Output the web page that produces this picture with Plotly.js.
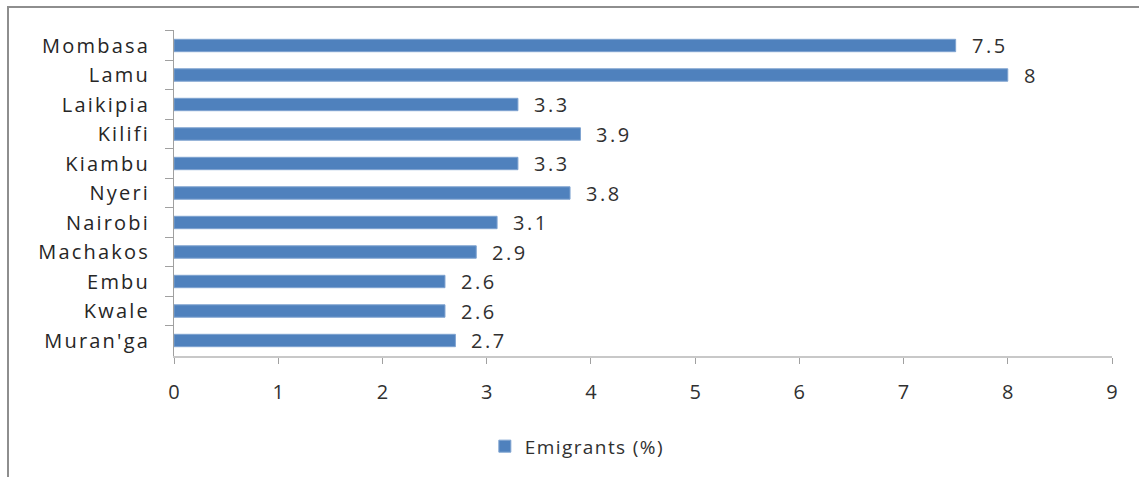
<!DOCTYPE html>
<html>
<head>
<meta charset="utf-8">
<script src="https://cdn.plot.ly/plotly-3.0.1.min.js"></script>
<style>
  html, body { margin: 0; padding: 0; overflow: hidden; background: #fff; }
  #chart { width: 1139px; height: 477px; }
  #frame { position: absolute; left: 7px; top: 6px; width: 1200px; height: 600px;
           border: 2px solid #8e8e8e; pointer-events: none; }
  .ytick text { letter-spacing: 2.2px; }
  .annotation-text { letter-spacing: 2.5px; }
  .legendtext { letter-spacing: 1.4px; }
</style>
</head>
<body>
<div id="chart"></div>
<div id="frame"></div>
<script>
const categories = ["Mombasa", "Lamu", "Laikipia", "Kilifi", "Kiambu", "Nyeri",
                    "Nairobi", "Machakos", "Embu", "Kwale", "Muran'ga"];
const emigrants = [7.5, 8, 3.3, 3.9, 3.3, 3.8, 3.1, 2.9, 2.6, 2.6, 2.7];
const valueLabels = ["7.5", "8", "3.3", "3.9", "3.3", "3.8", "3.1", "2.9", "2.6", "2.6", "2.7"];
const xTicks = [0, 1, 2, 3, 4, 5, 6, 7, 8, 9];
const seriesName = "Emigrants (%)";

const trace = {
  type: "bar",
  orientation: "h",
  x: emigrants,
  y: categories,
  name: seriesName,
  marker: { color: "#4F81BD", line: { color: "#7FA3D0", width: 1 } },
  hoverinfo: "x+y"
};

const annotations = categories.map((c, i) => ({
  x: emigrants[i], y: c, xref: "x", yref: "y",
  text: valueLabels[i], showarrow: false,
  xanchor: "left", yanchor: "middle", xshift: 14,
  font: { family: "Open Sans, sans-serif", size: 20, color: "#303030" }
}));

const layout = {
  width: 1139, height: 477,
  margin: { l: 174, r: 27, t: 30, b: 119 },
  paper_bgcolor: "rgba(0,0,0,0)",
  plot_bgcolor: "rgba(0,0,0,0)",
  bargap: 0.58,
  showlegend: true,
  legend: {
    orientation: "h", x: 0.43, xanchor: "center", y: -0.277, yanchor: "middle",
    font: { family: "Open Sans, sans-serif", size: 19, color: "#303030" },
    itemwidth: 30
  },
  xaxis: {
    range: [0, 9], tickvals: xTicks, ticktext: xTicks.map(String),
    showgrid: false, zeroline: false,
    showline: true, linecolor: "#c8c8c8", linewidth: 2,
    ticks: "outside", ticklen: 6, tickcolor: "#a0a0a0", tickwidth: 1,
    ticklabelstandoff: 11,
    tickfont: { family: "Open Sans, sans-serif", size: 20, color: "#303030" },
    fixedrange: true
  },
  yaxis: {
    autorange: "reversed", type: "category",
    showgrid: false, zeroline: false,
    showline: true, linecolor: "#a0a0a0", linewidth: 1,
    ticks: "outside", ticklen: 8, tickcolor: "#a0a0a0", tickwidth: 1,
    tickson: "boundaries",
    ticklabelstandoff: 19,
    tickfont: { family: "Open Sans, sans-serif", size: 20, color: "#262626" },
    fixedrange: true
  },
  annotations: annotations
};

Plotly.newPlot("chart", [trace], layout, { displayModeBar: false, staticPlot: true });
</script>
</body>
</html>
